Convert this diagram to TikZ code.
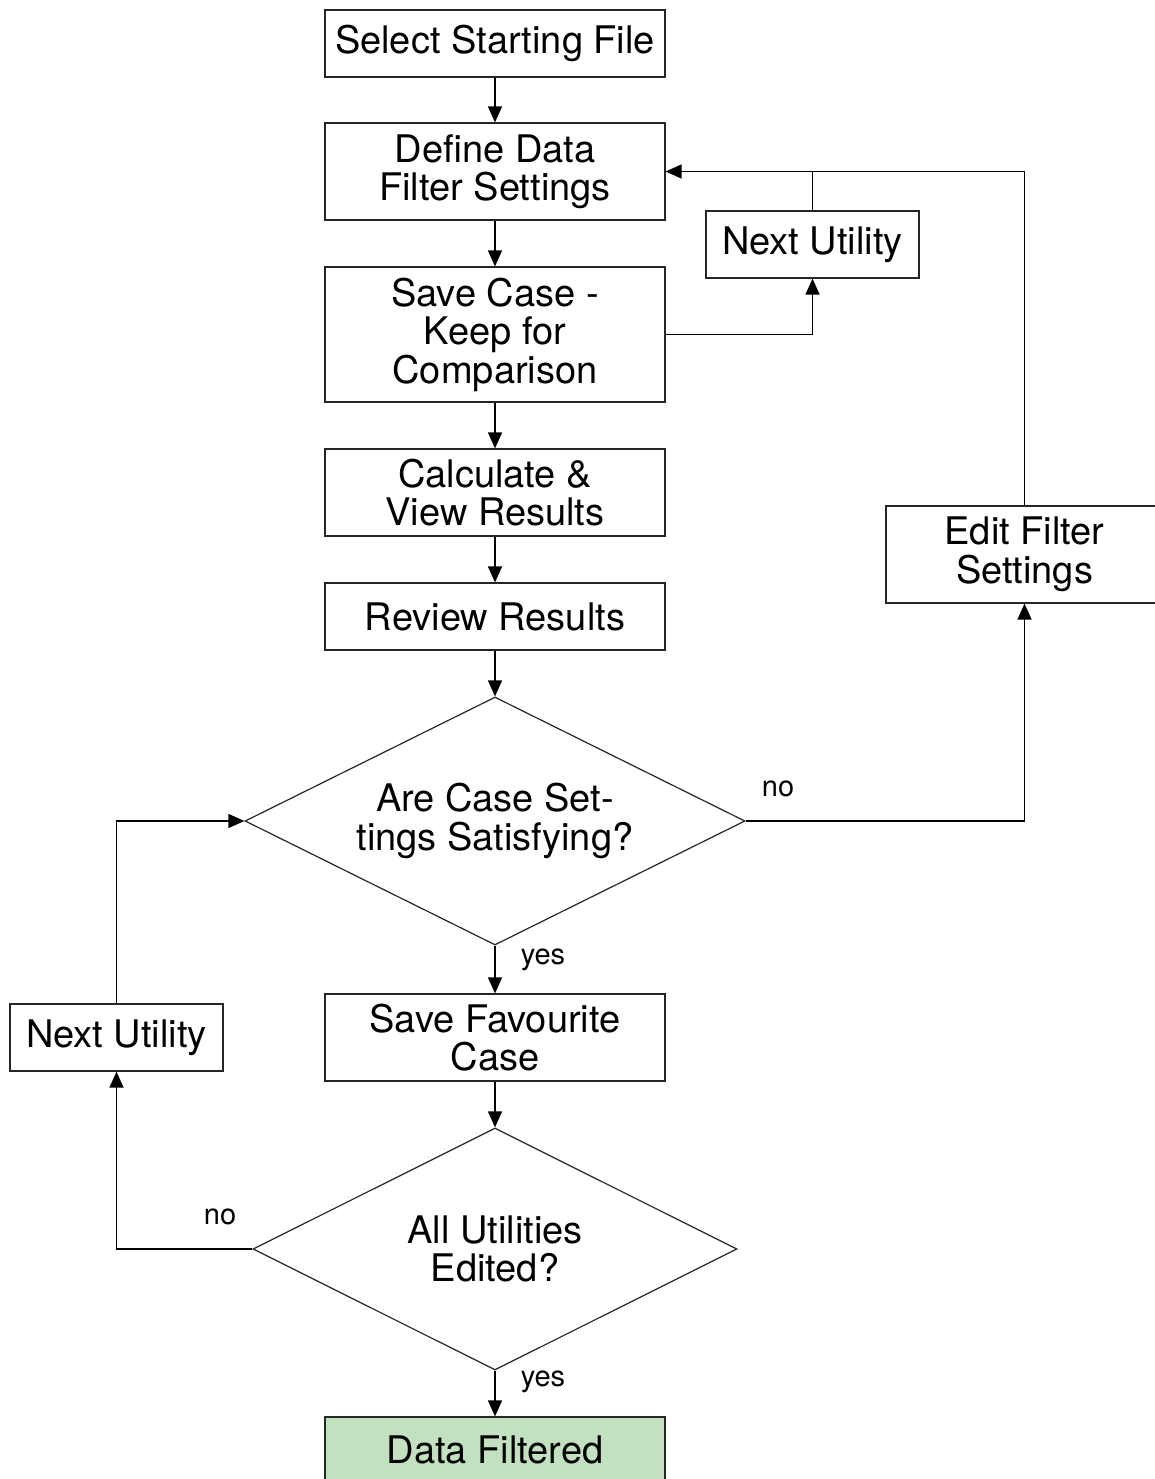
\documentclass[tikz,border=0pt]{standalone}
\usepackage{fontspec}
\setmainfont{TeX Gyre Heros}
\usetikzlibrary{arrows.meta,shapes.geometric}
\definecolor{donegreen}{RGB}{193,225,191}
\begin{document}
\begin{tikzpicture}[x=1pt,y=-1pt,
  box/.style={draw=black!85,line width=1.2pt,rectangle,inner sep=0pt,align=center,
    minimum width=340pt,font=\fontsize{38}{38.5}\selectfont},
  dec/.style={draw=black!85,line width=1.2pt,diamond,shape aspect=2,inner sep=0pt,align=center,
    font=\fontsize{38}{38.5}\selectfont},
  conn/.style={draw=black,line width=1.4pt,-{Triangle[width=14pt,length=16pt]}},
  plain/.style={draw=black,line width=1.4pt},
  lbl/.style={font=\fontsize{29}{32}\selectfont,inner sep=0pt}]
\useasboundingbox (0,0) rectangle (1155,1479);
\clip (0,0) rectangle (1155,1479);
\fill[white] (0,0) rectangle (1155,1479);

\node[box,minimum height=67pt] (b1) at (495,43.5) {Select Starting File};
\node[box,minimum height=97pt] (b2) at (495,171.5) {Define Data\\Filter Settings};
\node[box,minimum height=135pt] (b3) at (495,334.5) {Save Case -\\Keep for\\Comparison};
\node[box,minimum height=87pt] (b4) at (495,492.5) {Calculate \&\\View Results};
\node[box,minimum height=67pt] (b5) at (495,616.5) {Review Results};
\node[dec,minimum width=500pt,minimum height=248pt] (d1) at (495,821) {Are Case Set-\\tings Satisfying?};
\node[box,minimum height=87pt] (b6) at (495,1037.5) {Save Favourite\\Case};
\node[dec,minimum width=484pt,minimum height=242pt] (d2) at (495,1249) {All Utilities\\Edited?};
\node[box,minimum height=70pt,fill=donegreen,text depth=0pt] (b7) at (495,1452) {\raisebox{4pt}{Data Filtered}};
\node[box,minimum width=213pt,minimum height=67pt] (n1) at (812.5,244.5) {Next Utility};
\node[box,minimum width=277pt,minimum height=97pt] (e1) at (1024.5,554.5) {Edit Filter\\Settings};
\node[box,minimum width=213pt,minimum height=67pt] (n2) at (116.5,1037.5) {Next Utility};

\draw[conn] (b1.south) -- (b2.north);
\draw[conn] (b2.south) -- (b3.north);
\draw[conn] (b3.south) -- (b4.north);
\draw[conn] (b4.south) -- (b5.north);
\draw[conn] (b5.south) -- (d1.north);
\draw[conn] (d1.south) -- (b6.north);
\draw[conn] (b6.south) -- (d2.north);
\draw[conn] (d2.south) -- (b7.north);
\draw[conn] (d1.east) -| (e1.south);
\draw[conn] (e1.north) |- (b2.east);
\draw[plain] (n1.north) -- (n1.north |- b2.east);
\draw[conn] (b3.east) -| (n1.south);
\draw[conn] (d2.west) -| (n2.south);
\draw[conn] (n2.north) |- (d1.west);

\node[lbl] (l1) at (778,789) {no};
\node[lbl] (l2) at (543,960) {yes};
\node[lbl] (l3) at (220,1217) {no};
\node[lbl] (l4) at (543,1382) {yes};
\end{tikzpicture}
\end{document}
